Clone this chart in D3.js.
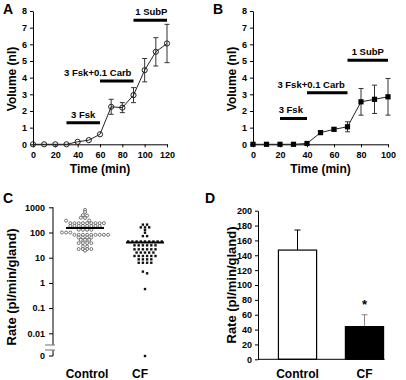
<!DOCTYPE html>
<html>
<head>
<meta charset="utf-8">
<script src="https://cdn.jsdelivr.net/npm/d3@7"></script>
<style>
  body { margin: 0; background: #fff; }
  svg { font-family: "Liberation Sans", Arial, sans-serif; font-weight: bold; }
  .tick text { font-size: 9px; font-weight: bold; fill: #000; }
</style>
</head>
<body>
<div id="chart"></div>
<script>
// panel A: time course, control glands
const timeA = [0, 10, 20, 30, 40, 50, 60, 70, 80, 90, 100, 110, 120];
const volA = [0, 0, 0, 0, 0.15, 0.25, 0.6, 2.25, 2.2, 2.95, 4.45, 5.55, 6.05];
const errA = [0, 0, 0, 0, 0, 0, 0, 0.45, 0.3, 0.45, 0.7, 0.85, 1.15];
const stimA = [
  {label: "3 Fsk", from: 30, to: 60, level: 1.3, text: 45},
  {label: "3 Fsk+0.1 Carb", from: 60, to: 90, level: 3.8, text: 58},
  {label: "1 SubP", from: 90, to: 120, level: 7.45, text: 106}
];

// panel B: time course, CF glands
const timeB = [0, 10, 20, 30, 40, 50, 60, 70, 80, 90, 100];
const volB = [0, 0, 0, 0, 0.05, 0.7, 0.9, 1.05, 2.55, 2.7, 2.85];
const errB = [0, 0, 0, 0, 0, 0, 0.1, 0.3, 0.8, 0.85, 1.1];
const stimB = [
  {label: "3 Fsk", from: 20, to: 40, level: 1.55, text: 28},
  {label: "3 Fsk+0.1 Carb", from: 40, to: 70, level: 3.1, text: 43},
  {label: "1 SubP", from: 70, to: 100, level: 5.05, text: 85}
];

// panel C: individual gland rates (pl/min/gland)
const groups = ["Control", "CF"];
const rateControl = [790, 650, 490, 470, 385, 375, 300, 295,
  235, 235, 235, 235, 235, 235, 235, 235, 235,
  183, 183, 183, 183, 183, 183, 183, 183,
  128, 128, 128, 128, 100, 100, 100,
  81, 81, 81, 81, 81, 81, 81, 81, 81,
  63, 63, 63, 63, 51, 51, 51, 38, 38, 38, 38, 28, 28,
  22, 22, 22, 22, 19];
const rateCF = [205, 205, 160, 160, 160, 126, 98, 72, 72,
  44, 44, 44, 44, 44, 44, 44, 44, 44,
  31, 31, 31, 31, 31, 31, 21.5, 21.5, 21.5, 21.5, 21.5, 21.5,
  16, 16, 16, 16, 16, 11.7, 11.7, 11.7, 11.7, 11.7, 11.7,
  8.6, 8.6, 8.6, 8.6, 6.3, 6.3, 6.3, 6.3, 2.8, 2.4, 0.57, 0];
const medians = [150, 40];
const logTicks = [1000, 100, 10, 1, 0.1, 0.01];

// panel D: mean rate
const meanRate = [147, 44];
const semRate = [27, 16];
const rateTicks = d3.range(0, 201, 20);

const svg = d3.select("#chart").append("svg")
  .attr("width", 406)
  .attr("height", 380);

function panelLetter(t, x, y) {
  svg.append("text").attr("x", x).attr("y", y)
    .style("font-size", "14px").text(t);
}
function yTitle(t, x, y, size) {
  svg.append("text")
    .attr("transform", `translate(${x},${y}) rotate(-90)`)
    .attr("text-anchor", "middle")
    .style("font-size", size + "px")
    .text(t);
}

// ---------- time course panels ----------
function timeCourse(opt) {
  const x = d3.scaleLinear().domain(opt.xDomain).range(opt.xRange);
  const y = d3.scaleLinear().domain([0, 8]).range([144.3, 11]);
  const g = svg.append("g");

  g.append("g")
    .attr("transform", `translate(0,${y(0)})`)
    .call(d3.axisBottom(x).tickValues(opt.xTicks).tickSize(3).tickPadding(4).tickSizeOuter(0));
  g.append("g")
    .attr("transform", `translate(${x(0)},0)`)
    .call(d3.axisLeft(y).ticks(8).tickSize(3).tickPadding(3).tickSizeOuter(0));
  g.selectAll(".domain, .tick line").attr("stroke", "#000");

  // stimulus bars
  opt.stim.forEach(s => {
    g.append("line")
      .attr("x1", x(s.from)).attr("x2", x(s.to))
      .attr("y1", y(s.level)).attr("y2", y(s.level))
      .attr("stroke", "#000").attr("stroke-width", 3);
    g.append("text")
      .attr("x", x(s.text)).attr("y", y(s.level) - 5)
      .attr("text-anchor", "middle")
      .style("font-size", "9.5px")
      .text(s.label);
  });

  const pts = opt.t.map((t, i) => ({t, v: opt.v[i], e: opt.e[i]}));

  // error bars
  const eb = g.selectAll(".eb").data(pts.filter(d => d.e > 0)).join("g")
    .attr("stroke", "#333").attr("stroke-width", 1);
  eb.append("line")
    .attr("x1", d => x(d.t)).attr("x2", d => x(d.t))
    .attr("y1", d => y(d.v - d.e)).attr("y2", d => y(d.v + d.e));
  eb.append("line")
    .attr("x1", d => x(d.t) - 2.5).attr("x2", d => x(d.t) + 2.5)
    .attr("y1", d => y(d.v + d.e)).attr("y2", d => y(d.v + d.e));
  eb.append("line")
    .attr("x1", d => x(d.t) - 2.5).attr("x2", d => x(d.t) + 2.5)
    .attr("y1", d => y(d.v - d.e)).attr("y2", d => y(d.v - d.e));

  g.append("path")
    .datum(pts)
    .attr("fill", "none").attr("stroke", "#222").attr("stroke-width", 1)
    .attr("d", d3.line().x(d => x(d.t)).y(d => y(d.v)));

  if (opt.marker === "circle") {
    g.selectAll(".m").data(pts).join("circle")
      .attr("cx", d => x(d.t)).attr("cy", d => y(d.v)).attr("r", 2.6)
      .attr("fill", "none").attr("stroke", "#222").attr("stroke-width", 1);
  } else {
    g.selectAll(".m").data(pts).join("rect")
      .attr("x", d => x(d.t) - 2.6).attr("y", d => y(d.v) - 2.6)
      .attr("width", 5.2).attr("height", 5.2)
      .attr("fill", "#000");
  }

  svg.append("text")
    .attr("x", (opt.xRange[0] + opt.xRange[1]) / 2).attr("y", 173)
    .attr("text-anchor", "middle").style("font-size", "12px")
    .text("Time (min)");
  yTitle("Volume (nl)", opt.titleX, 79, 12);
}

timeCourse({t: timeA, v: volA, e: errA, stim: stimA, xDomain: [0, 120], xRange: [33, 167],
  xTicks: d3.range(0, 121, 20), marker: "circle", titleX: 16});
timeCourse({t: timeB, v: volB, e: errB, stim: stimB, xDomain: [0, 100], xRange: [253, 388],
  xTicks: d3.range(0, 101, 20), marker: "square", titleX: 236});
panelLetter("A", 3, 14);
panelLetter("B", 213, 14);

// ---------- panel C: scatter on log axis with break ----------
const yLog = d3.scaleLog().domain([0.01, 1000]).range([333.3, 207.3]);
const zeroY = 356;
const yC = v => v > 0 ? yLog(v) : zeroY;
const xC = d3.scalePoint().domain(groups).range([85, 145]);
const axC = 53;

const gC = svg.append("g");
gC.append("g")
  .attr("transform", `translate(${axC},0)`)
  .call(d3.axisLeft(yLog).tickValues(logTicks).tickFormat(d3.format("~g")).tickSize(4).tickPadding(4))
  .call(a => a.select(".domain").remove());
// axis line with a break before zero
gC.append("line").attr("x1", axC).attr("x2", axC).attr("y1", yLog(1000)).attr("y2", 345).attr("stroke", "#000");
gC.append("line").attr("x1", axC).attr("x2", axC).attr("y1", 350).attr("y2", zeroY).attr("stroke", "#000");
[345, 350].forEach(b => gC.append("line")
  .attr("x1", axC - 8).attr("x2", axC + 2).attr("y1", b).attr("y2", b)
  .attr("stroke", "#888").attr("stroke-width", 1.2));
gC.append("line").attr("x1", axC - 4).attr("x2", axC).attr("y1", zeroY).attr("y2", zeroY).attr("stroke", "#000");
gC.append("text").attr("x", axC - 8).attr("y", zeroY).attr("dy", "0.32em")
  .attr("text-anchor", "end").style("font-size", "9px").text("0");

// simple row layout: dots with (nearly) the same height share a row
function rows(values, cx) {
  const out = [];
  const byRow = d3.group(values, v => Math.round(yC(v) / 3));
  byRow.forEach(vs => {
    vs.forEach((v, i) => out.push({x: cx + (i - (vs.length - 1) / 2) * 4.2, y: yC(v)}));
  });
  return out;
}
gC.selectAll(".ctl").data(rows(rateControl, xC("Control"))).join("circle")
  .attr("cx", d => d.x).attr("cy", d => d.y).attr("r", 1.5)
  .attr("fill", "#fff").attr("stroke", "#555").attr("stroke-width", 0.8);
gC.selectAll(".cf").data(rows(rateCF, xC("CF"))).join("rect")
  .attr("x", d => d.x - 1.2).attr("y", d => d.y - 1.2)
  .attr("width", 2.4).attr("height", 2.4).attr("fill", "#111");
gC.selectAll(".med").data(groups).join("line")
  .attr("x1", d => xC(d) - 19).attr("x2", d => xC(d) + 19)
  .attr("y1", (d, i) => yC(medians[i])).attr("y2", (d, i) => yC(medians[i]))
  .attr("stroke", "#000").attr("stroke-width", 2);
gC.selectAll(".lab").data(groups).join("text")
  .attr("x", d => xC(d) + (d === "CF" ? -5 : 2)).attr("y", 378)
  .attr("text-anchor", "middle").style("font-size", "12px").text(d => d);
yTitle("Rate (pl/min/gland)", 16, 287, 13);
panelLetter("C", 3, 203);

// ---------- panel D: bars ----------
const yD = d3.scaleLinear().domain([0, 200]).range([359.3, 210.7]);
const xD = d3.scaleBand().domain(groups).range([258, 404]).paddingInner(0.43).paddingOuter(0.305);
const gD = svg.append("g");
gD.append("g")
  .attr("transform", "translate(258,0)")
  .call(d3.axisLeft(yD).tickValues(rateTicks).tickSize(3).tickPadding(3).tickSizeOuter(0));
gD.selectAll(".domain, .tick line").attr("stroke", "#000");

// error whiskers (upper only)
gD.selectAll(".err").data(groups).join("line")
  .attr("x1", d => xD(d) + xD.bandwidth() / 2).attr("x2", d => xD(d) + xD.bandwidth() / 2)
  .attr("y1", (d, i) => yD(meanRate[i])).attr("y2", (d, i) => yD(meanRate[i] + semRate[i]))
  .attr("stroke", (d, i) => i ? "#888" : "#000").attr("stroke-width", 1);
gD.selectAll(".cap").data(groups).join("line")
  .attr("x1", d => xD(d) + xD.bandwidth() / 2 - 3).attr("x2", d => xD(d) + xD.bandwidth() / 2 + 3)
  .attr("y1", (d, i) => yD(meanRate[i] + semRate[i])).attr("y2", (d, i) => yD(meanRate[i] + semRate[i]))
  .attr("stroke", (d, i) => i ? "#888" : "#000").attr("stroke-width", 1);
gD.selectAll(".bar").data(groups).join("rect")
  .attr("x", d => xD(d)).attr("width", xD.bandwidth())
  .attr("y", (d, i) => yD(meanRate[i])).attr("height", (d, i) => yD(0) - yD(meanRate[i]))
  .attr("fill", (d, i) => i ? "#000" : "#fff").attr("stroke", "#000").attr("stroke-width", 1.2);
gD.append("line").attr("x1", 258).attr("x2", xD("CF") + xD.bandwidth() + 1)
  .attr("y1", yD(0)).attr("y2", yD(0)).attr("stroke", "#000");
gD.append("text").attr("x", xD("CF") + xD.bandwidth() / 2).attr("y", yD(68))
  .attr("text-anchor", "middle").style("font-size", "13px").text("*");
gD.selectAll(".lab").data(groups).join("text")
  .attr("x", d => xD(d) + xD.bandwidth() / 2).attr("y", 378)
  .attr("text-anchor", "middle").style("font-size", "12px").text(d => d);
yTitle("Rate (pl/min/gland)", 236, 285, 13);
panelLetter("D", 205, 203);
</script>
</body>
</html>
